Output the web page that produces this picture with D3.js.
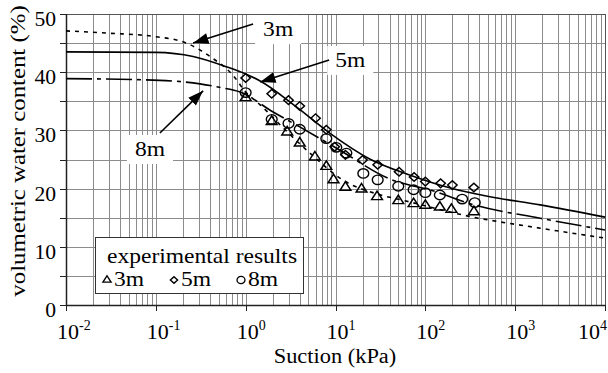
<!DOCTYPE html>
<html>
<head>
<meta charset="utf-8">
<script src="https://cdn.jsdelivr.net/npm/d3@7"></script>
<style>
	body { margin: 0; background: #fff; }
	svg text { font-family: "Liberation Serif", "Times New Roman", Times, serif; fill: #000; }
</style>
</head>
<body>
<svg id="chart" width="608" height="373" font-family="Liberation Serif, serif"></svg>
<script>
'use strict';

// axis ranges / ticks
const xDomain = [0.01, 10000];
const yDomain = [0, 50];
const decades = [-2, -1, 0, 1, 2, 3, 4];
const yTicks = [0, 10, 20, 30, 40, 50];
const yGrid = [0, 5, 10, 15, 20, 25, 30, 35, 40, 45, 50];

// model curves [suction kPa, water content %]
const curve3m = [[0.01, 47.1], [0.03, 46.7], [0.1, 46.1], [0.22, 45.0], [0.4, 42.7], [0.72, 39.5],
	[1.0, 36.6], [1.45, 34.4], [2.75, 30.1], [5.2, 26.1], [12, 21.5], [32, 18.9], [56, 18.0],
	[316, 15.2], [1900, 13.2], [10000, 11.5]];
const curve5m = [[0.01, 43.5], [0.1, 43.4], [0.26, 42.7], [0.62, 40.9], [1.0, 39.7], [1.45, 38.5],
	[3.7, 34.0], [8.7, 29.5], [24, 25.1], [68, 22.3], [190, 20.1], [525, 18.6], [1900, 17.2], [10000, 15.1]];
const curve8m = [[0.01, 38.9], [0.11, 38.6], [0.31, 38.0], [0.51, 37.4], [0.87, 36.6], [2.0, 33.2],
	[4.0, 30.6], [11.2, 26.6], [37, 21.9], [135, 19.4], [316, 17.4], [1900, 14.9], [10000, 12.9]];

// experimental results
const points3m = [[1.0, 35.6], [1.95, 31.5], [2.9, 29.7], [4.0, 27.8], [5.9, 25.4], [7.9, 23.8],
	[9.5, 21.5], [12.9, 20.2], [19.5, 19.9], [29, 18.6], [50, 17.9], [74, 17.4], [100, 17.1],
	[145, 16.8], [195, 16.4], [347, 16.0]];
const points5m = [[1.0, 39.0], [1.95, 36.3], [3.0, 35.2], [4.0, 34.2], [6.0, 32.1], [7.9, 30.1],
	[9.8, 27.2], [12.9, 25.8], [20, 24.9], [29.5, 24.1], [51, 22.9], [75, 22.0], [100, 21.2],
	[148, 20.9], [200, 20.6], [347, 20.2]];
const points8m = [[1.0, 36.5], [1.95, 31.9], [3.0, 31.2], [4.0, 30.2], [7.9, 28.6], [10.2, 27.1],
	[13.2, 26.1], [20.4, 22.6], [29.5, 21.5], [50, 20.4], [74, 19.8], [100, 19.3], [145, 18.9],
	[257, 18.2], [355, 17.6]];

const legendLabels = ['3m', '5m', '8m'];

// callouts: label position, arrow tail, arrow tip, in data units
const callouts = [
	{ text: '3m', at: [2.3, 46.2], from: [1.21, 48.3], to: [0.26, 45.0] },
	{ text: '5m', at: [14.6, 40.9], from: [8.5, 42.1], to: [1.45, 38.3] },
	{ text: '8m', at: [0.086, 25.6], from: [0.111, 29.55], to: [0.336, 36.8] }
];

let margin = { top: 14, right: 3, bottom: 68, left: 66 };
let W = 608, H = 373;
let svg = d3.select('#chart');

let x = d3.scaleLog().domain(xDomain).range([margin.left, W - margin.right]);
let y = d3.scaleLinear().domain(yDomain).range([H - margin.bottom, margin.top]);

// stretch text a bit wider, the original face is broader than Times
function widen(sel, k) {
	sel.each(function() {
		let w = this.getComputedTextLength();
		this.setAttribute('textLength', w * k);
		this.setAttribute('lengthAdjust', 'spacingAndGlyphs');
	});
}

// grid
let minor = [];
decades.slice(0, -1).forEach(d => {
	for (let m = 1; m < 10; m++) minor.push(m * Math.pow(10, d));
});
minor.push(10000);

let grid = svg.append('g').attr('stroke', '#8c8c8c').attr('stroke-width', 1);
grid.selectAll('line.v').data(minor).join('line')
	.attr('x1', d => Math.round(x(d)) + 0.5).attr('x2', d => Math.round(x(d)) + 0.5)
	.attr('y1', y(50)).attr('y2', y(0));
grid.selectAll('line.h').data(yGrid).join('line')
	.attr('x1', x(xDomain[0])).attr('x2', x(xDomain[1]))
	.attr('y1', d => Math.round(y(d)) + 0.5).attr('y2', d => Math.round(y(d)) + 0.5);

// frame
svg.append('rect')
	.attr('x', x(xDomain[0]) + 0.5).attr('y', y(50) + 0.5)
	.attr('width', x(xDomain[1]) - x(xDomain[0])).attr('height', y(0) - y(50))
	.attr('fill', 'none').attr('stroke', '#555').attr('stroke-width', 1);
svg.append('line')
	.attr('x1', x(xDomain[0])).attr('x2', x(xDomain[1]))
	.attr('y1', y(0) + 0.5).attr('y2', y(0) + 0.5)
	.attr('stroke', '#222').attr('stroke-width', 1.5);
svg.append('line')
	.attr('x1', x(xDomain[0]) + 0.5).attr('x2', x(xDomain[0]) + 0.5)
	.attr('y1', y(50)).attr('y2', y(0))
	.attr('stroke', '#222').attr('stroke-width', 1.5);

// y axis
let yAxis = svg.append('g');
yAxis.selectAll('line').data(yGrid).join('line')
	.attr('x1', x(xDomain[0]) - 6).attr('x2', x(xDomain[0]))
	.attr('y1', d => Math.round(y(d)) + 0.5).attr('y2', d => Math.round(y(d)) + 0.5)
	.attr('stroke', '#222');
yAxis.selectAll('text').data(yTicks).join('text')
	.attr('x', 56).attr('y', d => y(d) + 12)
	.attr('text-anchor', 'end').attr('font-size', 20)
	.text(d => d)
	.call(widen, 1.08);

// x axis
let xAxis = svg.append('g');
xAxis.selectAll('line').data(decades).join('line')
	.attr('x1', d => Math.round(x(Math.pow(10, d))) + 0.5).attr('x2', d => Math.round(x(Math.pow(10, d))) + 0.5)
	.attr('y1', y(0)).attr('y2', y(0) + 6)
	.attr('stroke', '#222');
let xt = xAxis.selectAll('text').data(decades).join('text')
	.attr('x', d => x(Math.pow(10, d)) - 9).attr('y', y(0) + 34)
	.attr('font-size', 22);
xt.append('tspan').text('10');
xt.append('tspan').attr('dy', -9).attr('font-size', 14).text(d => d);
// keep the last label inside the picture
xt.each(function() {
	let b = this.getBBox();
	if (b.x + b.width > W - 1) d3.select(this).attr('x', W - 1 - b.width);
});

svg.append('text')
	.attr('x', 335).attr('y', 363)
	.attr('text-anchor', 'middle').attr('font-size', 20)
	.text('Suction (kPa)')
	.call(widen, 1.12);

svg.append('text')
	.attr('transform', 'translate(25,151) rotate(-90)')
	.attr('text-anchor', 'middle').attr('font-size', 20)
	.text('volumetric water content (%)')
	.call(widen, 1.24);

// model curves
let line = d3.line()
	.x(d => x(d[0]))
	.y(d => y(d[1]))
	.curve(d3.curveMonotoneX);

let curves = [
	{ data: curve3m, dash: '4,5' },
	{ data: curve5m, dash: null },
	{ data: curve8m, dash: '26,5,4,5' }
];
svg.append('g').selectAll('path').data(curves).join('path')
	.attr('d', d => line(d.data))
	.attr('fill', 'none').attr('stroke', '#000').attr('stroke-width', 1.6)
	.attr('stroke-dasharray', d => d.dash);

// marker shapes
let tri = d3.symbol().type(d3.symbolTriangle);
function diamond(r) {
	return `M0,${-r}L${r},0L0,${r}L${-r},0Z`;
}

let marks = svg.append('g').attr('fill', 'none').attr('stroke', '#000').attr('stroke-width', 1.4);
marks.selectAll('path.t').data(points3m).join('path')
	.attr('d', tri.size(42)())
	.attr('transform', d => `translate(${x(d[0])},${y(d[1])}) scale(1.1,1)`);
marks.selectAll('path.d').data(points5m).join('path')
	.attr('d', diamond(4.3))
	.attr('transform', d => `translate(${x(d[0])},${y(d[1])}) scale(1.1,1)`);
marks.selectAll('ellipse').data(points8m).join('ellipse')
	.attr('cx', d => x(d[0])).attr('cy', d => y(d[1]))
	.attr('rx', 5.4).attr('ry', 4.7);

// callouts
svg.append('defs').append('marker')
	.attr('id', 'head')
	.attr('markerUnits', 'userSpaceOnUse')
	.attr('viewBox', '0 0 14 10')
	.attr('refX', 14).attr('refY', 5)
	.attr('markerWidth', 16).attr('markerHeight', 11)
	.attr('orient', 'auto')
	.append('path').attr('d', 'M0,0L14,5L0,10Z').attr('fill', '#000');

let co = svg.append('g');
callouts.forEach(c => {
	let g = co.append('g');
	let box = g.append('rect').attr('fill', '#fff');
	let t = g.append('text')
		.attr('x', x(c.at[0])).attr('y', y(c.at[1]))
		.attr('text-anchor', 'middle').attr('font-size', 21)
		.text(c.text)
		.call(widen, 1.12);
	let b = t.node().getBBox();
	box.attr('x', b.x - 8).attr('y', b.y - 2).attr('width', b.width + 16).attr('height', b.height + 5);
	g.append('line')
		.attr('x1', x(c.from[0])).attr('y1', y(c.from[1]))
		.attr('x2', x(c.to[0])).attr('y2', y(c.to[1]))
		.attr('stroke', '#000').attr('stroke-width', 1.6)
		.attr('marker-end', 'url(#head)');
});

// legend
let lg = svg.append('g').attr('transform', 'translate(95,237)');
lg.append('rect')
	.attr('x', 0.5).attr('y', 0.5).attr('width', 208).attr('height', 56)
	.attr('fill', '#fff').attr('stroke', '#333').attr('stroke-width', 1);
lg.append('text').attr('x', 12).attr('y', 26).attr('font-size', 21)
	.text('experimental results')
	.call(widen, 1.12);

let li = lg.selectAll('g.item').data(legendLabels).join('g')
	.attr('transform', (d, i) => `translate(${12 + i * 67},43)`);
li.append('path')
	.attr('d', (d, i) => i === 0 ? tri.size(24)() : i === 1 ? diamond(3.3) : null)
	.attr('fill', 'none').attr('stroke', '#000').attr('stroke-width', 1.3)
	.attr('transform', 'scale(1.1,1)');
li.filter((d, i) => i === 2).append('ellipse')
	.attr('rx', 4).attr('ry', 3.6)
	.attr('fill', 'none').attr('stroke', '#000').attr('stroke-width', 1.3);
li.append('text').attr('x', 7).attr('y', 6).attr('font-size', 21)
	.text(d => d)
	.call(widen, 1.12);
</script>
</body>
</html>
